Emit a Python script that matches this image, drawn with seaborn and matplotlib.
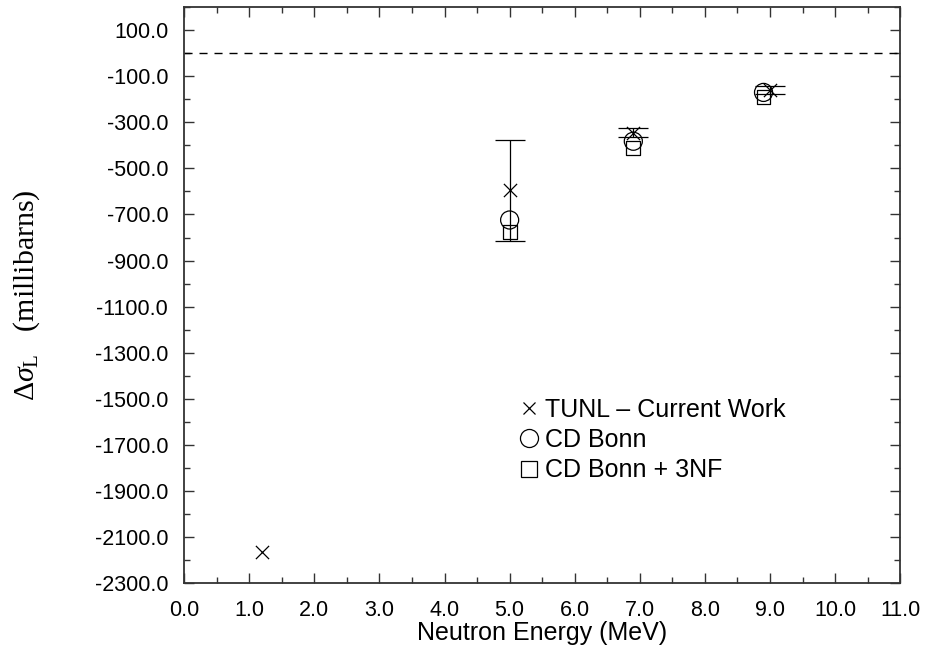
import matplotlib
matplotlib.use("Agg")
import matplotlib.pyplot as plt
from matplotlib.ticker import MultipleLocator, FormatStrFormatter
from matplotlib.lines import Line2D
import seaborn as sns
import pandas as pd
import numpy as np

# Longitudinal total cross-section difference vs neutron energy
tunl_energy = [1.2, 5.0, 6.9, 9.0]
tunl_dsigma = [-2165.0, -595.0, -345.0, -158.0]
tunl_error = [np.nan, 220.0, 20.0, 17.0]

bonn_energy = [5.0, 6.9, 8.9]
bonn_dsigma = [-724.0, -382.0, -170.0]

bonn3nf_energy = [5.0, 6.9, 8.9]
bonn3nf_dsigma = [-777.0, -412.0, -190.0]

legend_labels = ["TUNL \u2013 Current Work", "CD Bonn", "CD Bonn + 3NF"]

sns.set_theme(style="ticks", rc={"text.color": "black", "axes.labelcolor": "black",
                                 "xtick.color": "black", "ytick.color": "black"})
plt.rcParams["font.family"] = ["Liberation Sans", "DejaVu Sans"]
plt.rcParams["mathtext.fontset"] = "custom"
plt.rcParams["mathtext.rm"] = "Liberation Serif"
plt.rcParams["mathtext.it"] = "Liberation Serif:italic"

fig = plt.figure(figsize=(9.3, 6.55), dpi=100)
ax = fig.add_axes([0.198, 0.110, 0.770, 0.879])

tunl = pd.DataFrame({"E": tunl_energy, "d": tunl_dsigma, "err": tunl_error})
bonn = pd.DataFrame({"E": bonn_energy, "d": bonn_dsigma})
bonn3 = pd.DataFrame({"E": bonn3nf_energy, "d": bonn3nf_dsigma})

# zero reference line
ax.axhline(0, color="black", lw=1.0, dashes=(5.8, 5.0), zorder=1)

# error bars on the measurement
ax.errorbar(tunl["E"], tunl["d"], yerr=tunl["err"], fmt="none",
            ecolor="black", elinewidth=0.9, capsize=11, capthick=0.9, zorder=2)

sns.scatterplot(data=bonn, x="E", y="d", ax=ax, marker="o", s=13**2,
                facecolors="none", edgecolor="black", linewidth=0.9, zorder=3)
sns.scatterplot(data=bonn3, x="E", y="d", ax=ax, marker="s", s=10**2,
                facecolors="none", edgecolor="black", linewidth=0.9, zorder=3)
sns.scatterplot(data=tunl, x="E", y="d", ax=ax, marker="x", s=9.5**2,
                color="black", linewidth=0.9, zorder=4)

ax.set_xlim(0, 11)
ax.set_ylim(-2300, 200)
ax.xaxis.set_major_locator(MultipleLocator(1.0))
ax.xaxis.set_minor_locator(MultipleLocator(0.5))
ax.yaxis.set_minor_locator(MultipleLocator(100))
ax.set_yticks(np.arange(-2300, 101, 200))
ax.xaxis.set_major_formatter(FormatStrFormatter("%.1f"))
ax.yaxis.set_major_formatter(FormatStrFormatter("%.1f"))

ax.tick_params(which="both", direction="in", top=True, right=True,
               labelsize=15.5, color="#333333", labelcolor="black")
ax.tick_params(axis="x", which="major", pad=12)
ax.tick_params(axis="y", which="major", pad=11.5)
ax.tick_params(which="major", length=7, width=1.0)
ax.tick_params(which="minor", length=4, width=1.0)
for sp in ax.spines.values():
    sp.set_linewidth(1.3)
    sp.set_color("#333333")

ax.set_xlabel("Neutron Energy (MeV)", fontsize=18, labelpad=0, color="black")
ax.set_ylabel(r"$\Delta\sigma_{\rm L}$   (millibarns)", fontsize=21.5,
              family=["Liberation Serif"], labelpad=38, color="black")

handles = [
    Line2D([], [], ls="none", marker="x", color="black", markersize=9, markeredgewidth=0.9),
    Line2D([], [], ls="none", marker="o", markerfacecolor="none", markeredgecolor="black",
           markersize=13, markeredgewidth=0.9),
    Line2D([], [], ls="none", marker="s", markerfacecolor="none", markeredgecolor="black",
           markersize=11, markeredgewidth=0.9),
]
leg = ax.legend(handles, legend_labels, loc="upper left", bbox_to_anchor=(0.45, 0.343),
                frameon=False, fontsize=18, handlelength=0.8, handletextpad=0.25,
                labelspacing=0.25, borderpad=0)
for t in leg.get_texts():
    t.set_color("black")

fig.savefig("out.png", dpi=100)
